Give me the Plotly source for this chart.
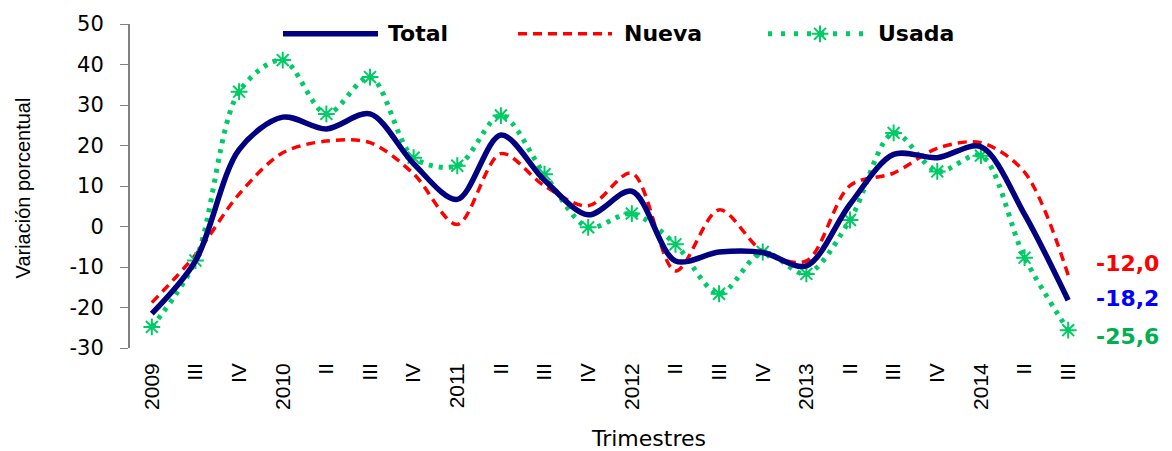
import plotly.graph_objects as go

# Quarterly year-on-year variation (%)
quarters = ["2009", "III", "IV", "2010", "II", "III", "IV", "2011", "II", "III", "IV",
            "2012", "II", "III", "IV", "2013", "II", "III", "IV", "2014", "II", "III"]
total = [-21.5, -8.5, 19.0, 27.0, 24.1, 27.8, 15.5, 6.7, 22.6, 11.4, 2.9,
         8.7, -8.5, -6.3, -6.4, -9.7, 5.5, 17.8, 17.0, 19.7, 3.0, -18.2]
nueva = [-18.8, -7.0, 8.0, 18.2, 21.1, 20.7, 13.0, 0.5, 18.0, 10.0, 5.1,
         13.2, -11.0, 4.1, -6.1, -8.5, 10.1, 13.2, 19.3, 20.7, 13.4, -12.0]
usada = [-24.8, -8.4, 33.3, 41.1, 27.8, 36.9, 17.0, 15.0, 27.4, 12.9, -0.2,
         3.2, -4.4, -16.6, -6.3, -11.7, 1.6, 23.1, 13.6, 17.5, -7.7, -25.6]
y_ticks = [-30, -20, -10, 0, 10, 20, 30, 40, 50]

NAVY = "#000080"
RED = "#FF0000"
GREEN = "#00CC66"

# plot area geometry in pixels
W, H = 1172, 451
L, R, T, B = 130, 1090, 19, 348


def px_x(px):
    return (px - L) / (R - L)


def px_y(py):
    return (B - py) / (B - T)


idx = list(range(len(quarters)))
star = dict(symbol="asterisk-open", size=14, color=GREEN,
            line=dict(color=GREEN, width=2))

fig = go.Figure()
fig.add_trace(go.Scatter(x=idx, y=nueva, mode="lines", name="Nueva",
                         line=dict(color=RED, width=3.5, dash="9px,6px",
                                   shape="spline", smoothing=0.9),
                         showlegend=False))
fig.add_trace(go.Scatter(x=idx, y=usada, mode="lines+markers", name="Usada",
                         line=dict(color=GREEN, width=5, dash="4px,6px",
                                   shape="spline", smoothing=0.9),
                         marker=star, showlegend=False))
fig.add_trace(go.Scatter(x=idx, y=total, mode="lines", name="Total",
                         line=dict(color=NAVY, width=5.5, shape="spline",
                                   smoothing=0.9),
                         showlegend=False))

# legend sample asterisk drawn on a paper-sized overlay axis
fig.add_trace(go.Scatter(x=[px_x(820)], y=[px_y(29)], mode="markers",
                         xaxis="x3", yaxis="y3", showlegend=False,
                         hoverinfo="skip", marker=star))

shapes = []
annotations = []

# custom legend
legend_items = [
    ("Total", 283, 378, 386, dict(color=NAVY, width=5.5)),
    ("Nueva", 518, 612, 622, dict(color=RED, width=3.5, dash="9px,6px")),
    ("Usada", 768, 867, 876, dict(color=GREEN, width=5, dash="4px,9px")),
]
for name, x0, x1, xt, ln in legend_items:
    shapes.append(dict(type="line", xref="paper", yref="paper",
                       x0=px_x(x0), x1=px_x(x1), y0=px_y(29), y1=px_y(29),
                       line=ln))
    annotations.append(dict(text=f"<b>{name}</b>", xref="paper", yref="paper",
                            x=px_x(xt), y=px_y(29), xanchor="left",
                            yanchor="middle", showarrow=False,
                            font=dict(family="DejaVu Sans", size=22,
                                      color="black")))

# end-of-series value labels
end_labels = [(nueva, RED, 12), (total, "#0000FF", 2), (usada, "#00B050", -6)]
for series, col, shift in end_labels:
    annotations.append(dict(text="<b>" + f"{series[-1]:.1f}".replace(".", ",") + "</b>",
                            x=idx[-1], y=series[-1], xref="x", yref="y",
                            xanchor="left", yanchor="middle", xshift=26,
                            yshift=shift, showarrow=False,
                            font=dict(family="DejaVu Sans", size=22, color=col)))

# axis titles
annotations.append(dict(text="Variación porcentual", xref="paper", yref="paper",
                        x=px_x(23), y=px_y(186), textangle=-90,
                        xanchor="center", yanchor="middle", showarrow=False,
                        font=dict(family="Liberation Sans", size=20, color="black")))
annotations.append(dict(text="Trimestres", xref="paper", yref="paper",
                        x=px_x(648), y=px_y(440), xanchor="center",
                        yanchor="middle", showarrow=False,
                        font=dict(family="DejaVu Sans", size=22, color="black")))

zero_pos = 30 / 80

fig.update_layout(
    width=W, height=H,
    margin=dict(l=L, r=W - R, t=T, b=H - B),
    paper_bgcolor="white", plot_bgcolor="white",
    showlegend=False,
    shapes=shapes, annotations=annotations,
    xaxis=dict(range=[-0.5, len(quarters) - 0.5], tickmode="array",
               tickvals=idx, ticktext=quarters, tickangle=-90,
               ticks="", showline=False, showgrid=False, zeroline=False,
               ticklabelstandoff=10,
               tickfont=dict(family="Liberation Sans", size=21, color="black")),
    xaxis2=dict(range=[-0.5, len(quarters) - 0.5], overlaying="x",
                anchor="free", position=zero_pos, side="bottom",
                tickmode="array",
                tickvals=[i * 0.5 - 0.5 for i in range(2 * len(quarters) + 1)],
                showticklabels=False, ticks="outside", ticklen=6,
                tickcolor="#404040", tickwidth=1,
                showline=True, linecolor="#404040", linewidth=1,
                showgrid=False, zeroline=False),
    xaxis3=dict(range=[0, 1], domain=[0, 1], anchor="y3", visible=False,
                overlaying="x"),
    yaxis3=dict(range=[0, 1], domain=[0, 1], anchor="x3", visible=False,
                overlaying="y"),
    yaxis=dict(range=[-30, 50], tickmode="array", tickvals=y_ticks,
               ticktext=[str(v) for v in y_ticks],
               ticks="outside", ticklen=8, tickcolor="#808080", tickwidth=1,
               showline=True, linecolor="#808080", linewidth=2,
               showgrid=False, zeroline=False, ticklabelstandoff=12,
               tickfont=dict(family="DejaVu Sans", size=21, color="black")),
)

fig.write_html("out.html")
